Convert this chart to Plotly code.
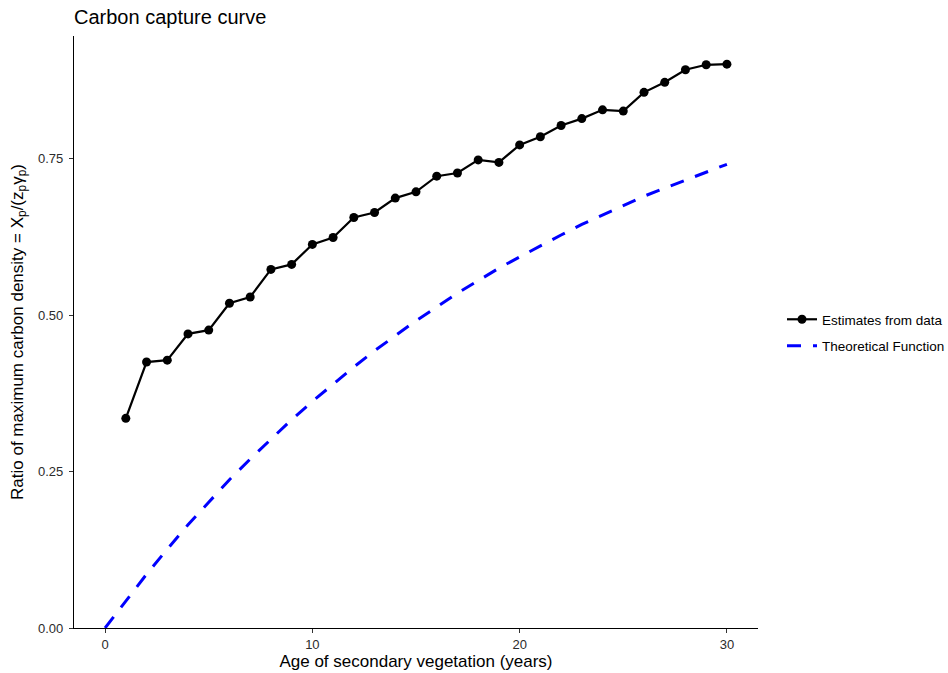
import plotly.graph_objects as go

# Estimated share of maximum carbon density, by stand age
age_years = list(range(1, 31))
estimate_ratio = [
    0.335, 0.425, 0.428, 0.470, 0.476, 0.519, 0.529, 0.573, 0.581, 0.613,
    0.624, 0.656, 0.664, 0.687, 0.697, 0.722, 0.727, 0.748, 0.744, 0.772,
    0.785, 0.803, 0.814, 0.828, 0.826, 0.856, 0.872, 0.892, 0.900, 0.901,
]

# Theoretical capture curve
theory_age = list(range(0, 31))
theory_ratio = [
    0.000, 0.044, 0.086, 0.126, 0.165, 0.201, 0.237, 0.270, 0.302, 0.333,
    0.362, 0.390, 0.417, 0.443, 0.467, 0.491, 0.513, 0.535, 0.555, 0.575,
    0.593, 0.611, 0.628, 0.645, 0.660, 0.675, 0.690, 0.703, 0.716, 0.729,
    0.741,
]

x_ticks = [0, 10, 20, 30]
y_ticks = [0.0, 0.25, 0.5, 0.75]
y_tick_text = ["0.00", "0.25", "0.50", "0.75"]

font_family = "Liberation Sans, Arial, Helvetica, sans-serif"

fig = go.Figure()
fig.add_trace(go.Scatter(
    x=age_years, y=estimate_ratio,
    mode="lines+markers",
    name="Estimates from data",
    legendgroup="est",
    line=dict(color="black", width=2.2),
    marker=dict(color="black", size=9),
))
fig.add_trace(go.Scatter(
    x=theory_age, y=theory_ratio,
    mode="lines",
    name="Theoretical Function",
    legendgroup="theory",
    line=dict(color="#0000ff", width=3, dash="14px,12px"),
))

fig.update_layout(
    width=948, height=673,
    margin=dict(l=74, r=190, t=36, b=45, autoexpand=False),
    paper_bgcolor="white",
    plot_bgcolor="white",
    font=dict(family=font_family, color="black"),
    title=dict(
        text="Carbon capture curve",
        x=74 / 948, xanchor="left",
        y=1 - 17 / 673, yanchor="middle",
        font=dict(size=20, color="black"),
    ),
    legend=dict(
        xref="container", yref="container",
        x=782 / 948, xanchor="left",
        y=1 - 333 / 673, yanchor="middle",
        font=dict(size=13.5, color="black"),
        bgcolor="rgba(0,0,0,0)",
        itemwidth=30,
        tracegroupgap=6,
    ),
    showlegend=True,
)

fig.update_xaxes(
    range=[-1.5, 31.5],
    tickmode="array", tickvals=x_ticks,
    ticks="outside", ticklen=4, tickcolor="#333333", tickwidth=1.1,
    tickfont=dict(size=13, color="#2b2b2b"),
    showline=True, linecolor="black", linewidth=1.1,
    showgrid=False, zeroline=False, automargin=False,
    title=dict(text="Age of secondary vegetation (years)",
               font=dict(size=17, color="black"), standoff=2),
)
fig.update_yaxes(
    range=[0, 0.946],
    tickmode="array", tickvals=y_ticks, ticktext=y_tick_text,
    ticks="outside", ticklen=4, tickcolor="#333333", tickwidth=1.1,
    tickfont=dict(size=13, color="#2b2b2b"), ticklabelstandoff=3,
    showline=True, linecolor="black", linewidth=1.1,
    showgrid=False, zeroline=False, automargin=False,
    title=dict(text="Ratio of maximum carbon density = X<sub>p</sub>/(z<sub>p</sub>γ<sub>p</sub>)",
               font=dict(size=17, color="black"), standoff=10),
)

fig.write_html("out.html")
